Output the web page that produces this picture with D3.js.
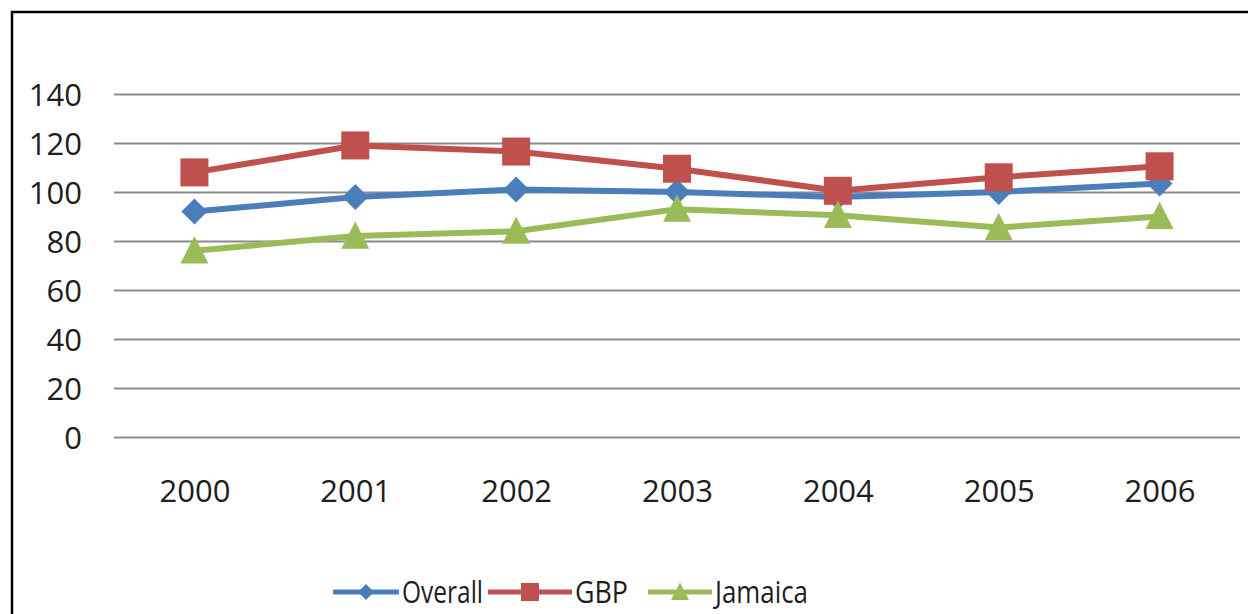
<!DOCTYPE html>
<html>
<head>
<meta charset="utf-8">
<script src="https://cdnjs.cloudflare.com/ajax/libs/d3/7.8.5/d3.min.js"></script>
<style>
  html, body { margin: 0; padding: 0; background: #ffffff; }
  svg { display: block; }
  text { font-family: "Open Sans", "Noto Sans", sans-serif; fill: #1e1e1e; }
</style>
</head>
<body>
<svg id="chart" width="1248" height="614"></svg>
<script>
// Index values per year
const years = ["2000", "2001", "2002", "2003", "2004", "2005", "2006"];
const overall = [92, 98, 101, 100, 98, 100, 103.5];
const gbp = [108, 119, 116.5, 109.5, 100.5, 106, 110.5];
const jamaica = [76, 82, 84, 93, 90.5, 85.5, 90];
const yTicks = [0, 20, 40, 60, 80, 100, 120, 140];

const seriesList = [
  { name: "Overall", values: overall, color: "#4a7ebb", marker: "diamond" },
  { name: "GBP", values: gbp, color: "#c0504d", marker: "square" },
  { name: "Jamaica", values: jamaica, color: "#9bbb59", marker: "triangle" }
];

const svg = d3.select("#chart");

// Outer frame (top and left edges visible within the page)
svg.append("path")
  .attr("d", "M12,640 L12,12 L1260,12")
  .attr("fill", "none")
  .attr("stroke", "#000")
  .attr("stroke-width", 2.5);

const plot = { left: 114, right: 1240, top: 94, bottom: 437 };

const x = d3.scalePoint().domain(years).range([plot.left, plot.right]).padding(0.5);
const y = d3.scaleLinear().domain([0, 140]).range([plot.bottom, plot.top]);

// Horizontal gridlines with value labels
const yAxis = d3.axisLeft(y).tickValues(yTicks).tickSize(-(plot.right - plot.left)).tickPadding(32);
const gy = svg.append("g").attr("transform", `translate(${plot.left},0)`).call(yAxis);
gy.select(".domain").remove();
gy.selectAll(".tick line").attr("stroke", "#8a8a8a").attr("stroke-width", 2);
gy.selectAll(".tick text").style("font-size", "31px").attr("fill", "#1e1e1e").attr("dy", "0.36em");

// Category labels
const xAxis = d3.axisBottom(x).tickSize(0).tickPadding(43);
const gx = svg.append("g").attr("transform", `translate(0,${plot.bottom})`).call(xAxis);
gx.select(".domain").remove();
gx.selectAll(".tick text").style("font-size", "31px").attr("fill", "#1e1e1e");

function markerPath(type, s) {
  if (type === "diamond") return `M0,${-s} L${s},0 L0,${s} L${-s},0 Z`;
  if (type === "square") return `M${-s},${-s} H${s} V${s} H${-s} Z`;
  return `M0,${-s * 1.05} L${s},${s * 0.9} L${-s},${s * 0.9} Z`;
}
const markerSize = { diamond: 13, square: 14, triangle: 14 };

const line = d3.line().x((d, i) => x(years[i])).y(d => y(d));

// Series lines and markers
seriesList.forEach(s => {
  const g = svg.append("g");
  g.append("path")
    .datum(s.values)
    .attr("d", line)
    .attr("fill", "none")
    .attr("stroke", s.color)
    .attr("stroke-width", 6)
    .attr("stroke-linejoin", "round");
  g.selectAll("path.m")
    .data(s.values)
    .join("path")
    .attr("class", "m")
    .attr("transform", (d, i) => `translate(${x(years[i])},${y(d)})`)
    .attr("d", markerPath(s.marker, markerSize[s.marker]))
    .attr("fill", s.color);
});

// Legend
const legendY = 592;
const legendItems = [
  { x0: 333, x1: 399, tx: 402, w: 81 },
  { x0: 488, x1: 572, tx: 575, w: 53 },
  { x0: 648, x1: 712, tx: 715, w: 93 }
];
const legendMarker = { diamond: 8, square: 9, triangle: 9 };
seriesList.forEach((s, i) => {
  const L = legendItems[i];
  const g = svg.append("g");
  g.append("line")
    .attr("x1", L.x0).attr("x2", L.x1)
    .attr("y1", legendY).attr("y2", legendY)
    .attr("stroke", s.color).attr("stroke-width", 5);
  g.append("path")
    .attr("transform", `translate(${(L.x0 + L.x1) / 2},${legendY})`)
    .attr("d", markerPath(s.marker, legendMarker[s.marker]))
    .attr("fill", s.color);
  g.append("text")
    .attr("x", L.tx).attr("y", legendY)
    .attr("dy", "0.36em")
    .attr("textLength", L.w)
    .attr("lengthAdjust", "spacingAndGlyphs")
    .style("font-size", "31px")
    .text(s.name);
});
</script>
</body>
</html>
